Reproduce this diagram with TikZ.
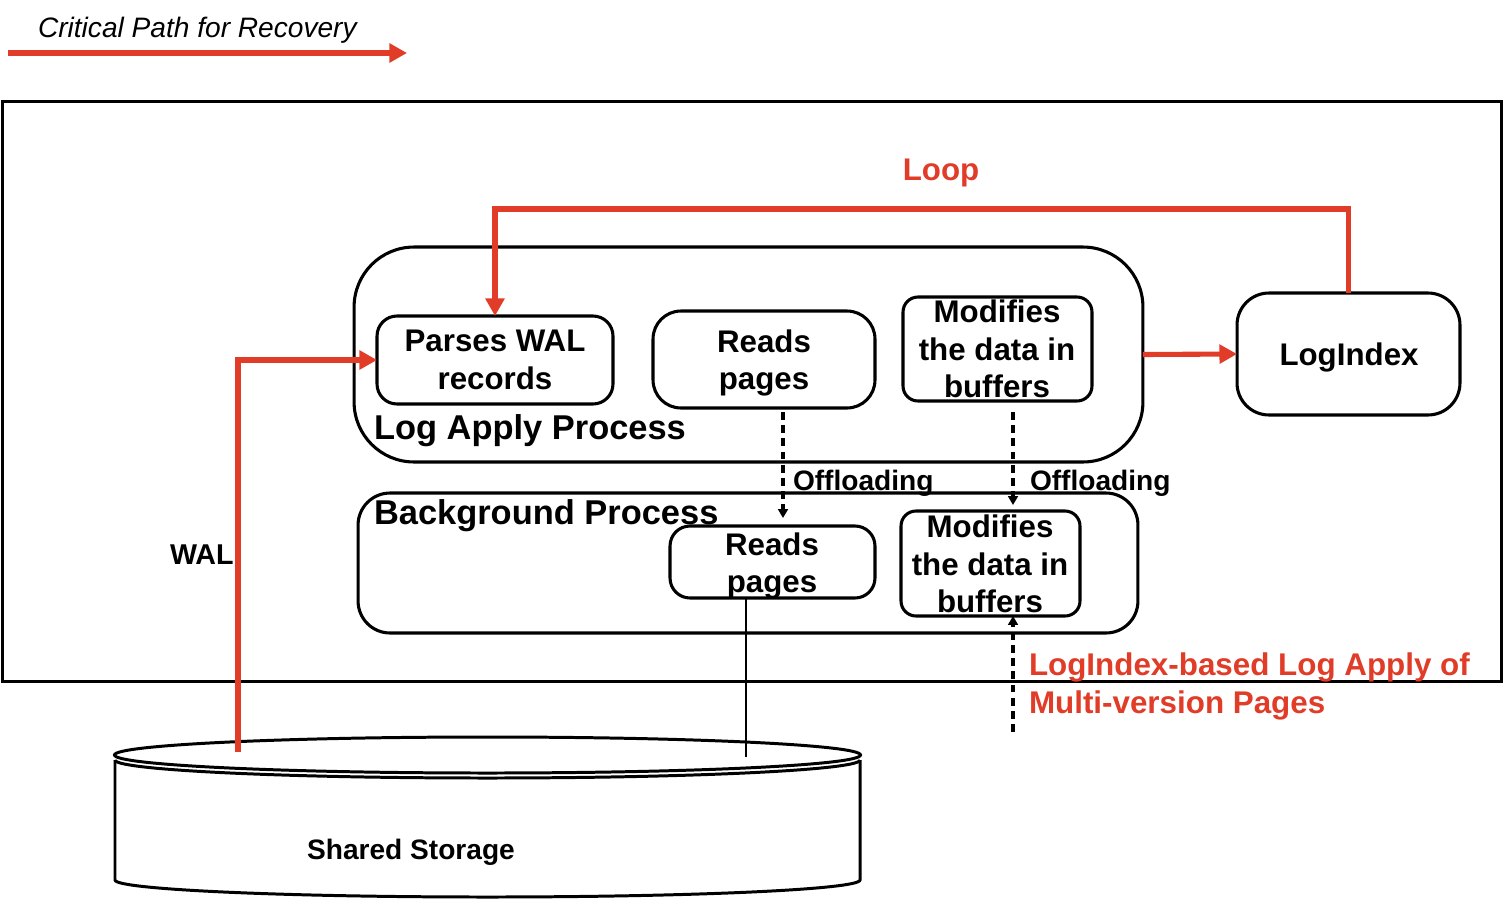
\documentclass[tikz,border=0pt]{standalone}
\usepackage{fontspec}
\setmainfont{Liberation Sans}
\usetikzlibrary{arrows.meta,calc}
\definecolor{cpred}{RGB}{224,60,40}
\begin{document}
\begin{tikzpicture}[x=0.02cm,y=-0.02cm,
  every node/.style={inner sep=0pt,outer sep=0pt},
  frame/.style={draw,line width=1.7pt},
  pbox/.style={draw,line width=1.75pt},
  btxt/.style={align=center,font=\fontsize{17.8}{21.5}\selectfont\bfseries},
  ptitle/.style={anchor=base west,font=\fontsize{19.6}{23}\selectfont\bfseries},
  offtxt/.style={anchor=base west,font=\fontsize{16}{19}\selectfont\bfseries},
  redtxt/.style={anchor=base west,text=cpred,font=\fontsize{17.85}{21.5}\selectfont\bfseries},
  redpath/.style={draw=cpred,line width=2.9pt,-{Triangle[length=10pt,width=10.5pt]}},
  dasharrow/.style={line width=1.9pt,dash pattern=on 4.5pt off 3pt,-{Triangle[length=5pt,width=5.5pt]}},
]
\useasboundingbox (0,0) rectangle (1504,903);

% legend
\node[anchor=base west,font=\fontsize{16}{19}\selectfont\itshape] (legtxt) at (38,37) {Critical Path for Recovery};
\coordinate (legA) at (8,53);
\coordinate (legB) at (407,53);
\draw[redpath] (legA) -- (legB);

% frame
\node[frame,minimum width=30cm,minimum height=11.62cm] (frame) at (752,391.5) {};

% process boxes
\node[pbox,rounded corners=1.2cm,minimum width=15.78cm,minimum height=4.3cm] (lap) at (748.5,354.5) {};
\node[pbox,rounded corners=0.64cm,minimum width=15.6cm,minimum height=2.8cm] (bgp) at (748,563) {};

\node[pbox,rounded corners=0.4cm,minimum width=4.72cm,minimum height=1.76cm] (parses) at (495,360) {};
\node[btxt] (parsesT) at (495,360) {Parses WAL\\records};
\node[pbox,rounded corners=0.56cm,minimum width=4.44cm,minimum height=1.94cm] (readsA) at (764,359.5) {};
\node[btxt] (readsAT) at (764,363) {Reads\\pages};
\node[pbox,rounded corners=0.3cm,minimum width=3.78cm,minimum height=2.08cm] (modA) at (997.5,349) {};
\node[btxt] (modAT) at (997,349) {Modifies\\the data in\\buffers};
\node[pbox,rounded corners=0.64cm,minimum width=4.46cm,minimum height=2.44cm] (logindex) at (1348.5,354) {};
\node[font=\fontsize{17.8}{21}\selectfont\bfseries] (logindexT) at (1349,357.5) {LogIndex};

\node[pbox,rounded corners=0.4cm,minimum width=4.1cm,minimum height=1.44cm] (readsB) at (772.5,562) {};
\node[btxt] (readsBT) at (772,566) {Reads\\pages};
\node[pbox,rounded corners=0.3cm,minimum width=3.58cm,minimum height=2.1cm] (modB) at (990.5,563.5) {};
\node[btxt] (modBT) at (990,564) {Modifies\\the data in\\buffers};

\node[ptitle] (lapT) at (374,439) {Log Apply Process};
\node[ptitle] (bgpT) at (374,524) {Background Process};

% shared storage cylinder
\draw[line width=1.7pt] (115,760) -- (115,880) .. controls (115,889.4) and (281.9,897) .. (487.5,897) .. controls (693.1,897) and (860,889.4) .. (860,880) -- (860,760);
\draw[line width=1.7pt] (115,760) .. controls (115,769.9) and (281.9,778) .. (487.5,778) .. controls (693.1,778) and (860,769.9) .. (860,760);
\draw[line width=1.7pt] (487.5,755) ellipse[x radius=373,y radius=18];
\node[anchor=base,font=\fontsize{16}{19}\selectfont\bfseries] (storage) at (411,859) {Shared Storage};
\coordinate (walsrc) at (238,752);
\coordinate (pagesrc) at (746,757);

% critical path
\draw[redpath] (walsrc) |- (parses.west);
\node[anchor=base west,font=\fontsize{16.3}{19}\selectfont\bfseries] (wallbl) at (170,564) {WAL};
\coordinate (looptop) at (900,209);
\draw[redpath] (logindex.north) |- (looptop) -| (parses.north);
\draw[redpath] (lap.east) -- (logindex.west);
\node[anchor=base,text=cpred,font=\fontsize{17.8}{21}\selectfont\bfseries] (looplbl) at (941,180) {Loop};

% offloading
\coordinate (offAend) at (783,518);
\draw[dasharrow] ($(readsA.south -| offAend)+(0,4)$) -- (offAend);
\coordinate (offBend) at (1013,505);
\draw[dasharrow] ($(modA.south -| offBend)+(0,11)$) -- (offBend);
\coordinate (libsrc) at (1013,732);
\draw[dasharrow] (libsrc) -- (modB.south -| libsrc);
\draw[line width=1.5pt] (pagesrc) -- (readsB.south -| pagesrc);

\node[offtxt] (off1) at (793,490) {Offloading};
\node[offtxt] (off2) at (1030,490) {Offloading};
\node[redtxt] (lib1) at (1029,675) {LogIndex-based Log Apply of};
\node[redtxt] (lib2) at (1029,713) {Multi-version Pages};
\end{tikzpicture}
\end{document}
